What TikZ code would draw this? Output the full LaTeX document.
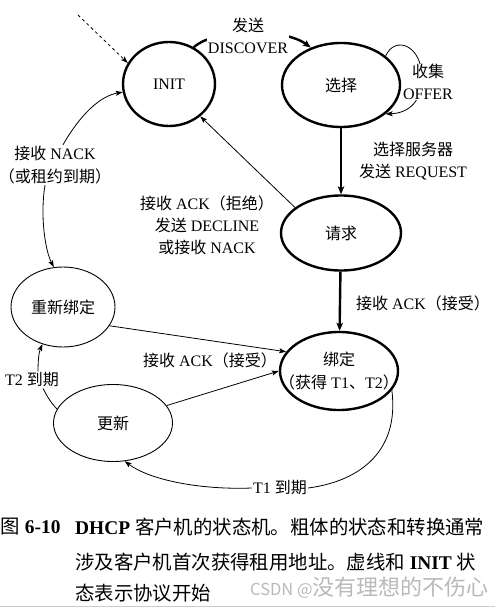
\documentclass[tikz,border=0pt]{standalone}
\usepackage{fontspec}
\setmainfont{Liberation Serif}
\newfontfamily\cjk{Noto Sans CJK SC}
\usetikzlibrary{shapes.geometric,arrows.meta}
\newcommand\zh[1]{{\cjk #1}}
\begin{document}
\begin{tikzpicture}[x=1bp,y=-1bp,
  every node/.style={font=\fontsize{16bp}{22bp}\selectfont},
  stateb/.style={ellipse,draw,line width=2.4bp,inner sep=0pt},
  statet/.style={ellipse,draw,line width=0.9bp,inner sep=0pt},
  thk/.style={line width=2.4bp,-{Stealth[length=8bp,width=6.5bp,inset=2bp]}},
  thn/.style={line width=0.8bp,-{Stealth[length=7bp,width=5bp,inset=1.5bp]}},
  plainln/.style={line width=0.8bp},
  lbl/.style={align=center,inner sep=1bp},
  captxt/.style={font=\fontsize{19.4bp}{24bp}\selectfont,inner sep=0pt,anchor=west}]
\useasboundingbox (0,0) rectangle (495,608);
% states
\node[stateb,minimum width=92bp,minimum height=84bp] (init) at (169,84) {INIT};
\node[stateb,minimum width=118bp,minimum height=84bp] (sel) at (341,85) {\zh{选择}};
\node[stateb,minimum width=120bp,minimum height=75bp] (req) at (341,233) {\zh{请求}};
\node[stateb,minimum width=118bp,minimum height=78bp] (bind) at (339,371) {};
\node[lbl,font=\fontsize{16bp}{23bp}\selectfont] (bindtxt) at (bind.center)
  {\zh{绑定}\\\zh{（获得} T1\zh{、}T2\zh{）}};
\node[statet,minimum width=104bp,minimum height=80bp] (rebind) at (63,307) {\zh{重新绑定}};
\node[statet,minimum width=119bp,minimum height=77bp] (upd) at (113,423) {\zh{更新}};
% dashed start
\coordinate (st) at (78,15);
\draw[thn,dashed] (st) -- (init.153);
% INIT -> select
\draw[thk] (init.56) .. controls (215,28) and (285,28) .. (sel.129);
\node[lbl,fill=white] (disc) at (248,36) {\zh{发送}\\DISCOVER};
% self loop
\draw[thn] (sel.33) .. controls (395,35) and (422,45) .. (422,78)
  .. controls (422,100) and (410,113) .. (sel.-33);
\node[lbl,fill=white,inner sep=0.5bp] (offer) at (428,82) {\zh{收集}\\OFFER};
% select -> request
\draw[thk] (sel) -- (req);
\node[lbl] (srv) at (413,161) {\zh{选择服务器}\\\zh{发送} REQUEST};
% request -> INIT
\draw[thn] (req.151) -- (init.-46);
\node[lbl] (rej) at (207,225) {\zh{接收} ACK\zh{（拒绝）}\\\zh{发送} DECLINE\\\zh{或接收} NACK};
% request -> bound
\draw[thk] (req) -- (bind);
\node[lbl] (acc1) at (423,303) {\zh{接收} ACK\zh{（接受）}};
% rebinding -> bound
\draw[thn] (rebind.-22) -- (bind.160);
\node[lbl] (acc2) at (210,360) {\zh{接收} ACK\zh{（接受）}};
% renewing -> bound
\draw[thn] (upd.18) -- (bind.180);
% NACK
\node[lbl,font=\fontsize{16bp}{23bp}\selectfont] (nack) at (55,165) {\zh{接收} NACK\\\zh{（或租约到期）}};
\draw[thn] ([xshift=8bp]nack.north) .. controls (80,115) and (100,96) .. (init.190);
\draw[thn] ([xshift=-10bp]nack.south) .. controls (40,215) and (45,250) .. (rebind.103);
% T2
\node[lbl] (t2) at (32,380) {T2 \zh{到期}};
\draw[plainln] (upd.166) .. controls (50,402) and (46,394) .. ([xshift=11bp]t2.south);
\draw[thn] ([xshift=6bp]t2.north) .. controls (38,360) and (39,352) .. (rebind.241);
% T1
\node[lbl] (t1) at (280,488) {T1 \zh{到期}};
\draw[plainln] (bind.-20) .. controls (400,455) and (355,482) .. (t1.east);
\draw[thn] (t1.west) .. controls (200,490) and (150,480) .. (upd.-73);
% caption
\node[captxt] (c0) at (0.5,527) {\zh{图} \textbf{6-10}};
\node[captxt] (c1) at (75,527) {\textbf{DHCP} \zh{客户机的状态机。粗体的状态和转换通常}};
\node[captxt] (c2) at (75,562) {\zh{涉及客户机首次获得租用地址。虚线和} \textbf{INIT} \zh{状}};
\node[captxt] (c3) at (75,593) {\zh{态表示协议开始}};
\node[inner sep=0pt,anchor=west,text=gray!55,font=\cjk\fontsize{22bp}{24bp}\selectfont] (wm) at (250,588) {{\fontsize{16.5bp}{20bp}\selectfont CSDN @}没有理想的不伤心};
\draw[gray!40,line width=1bp] (0,606) -- (495,606);
\end{tikzpicture}
\end{document}
